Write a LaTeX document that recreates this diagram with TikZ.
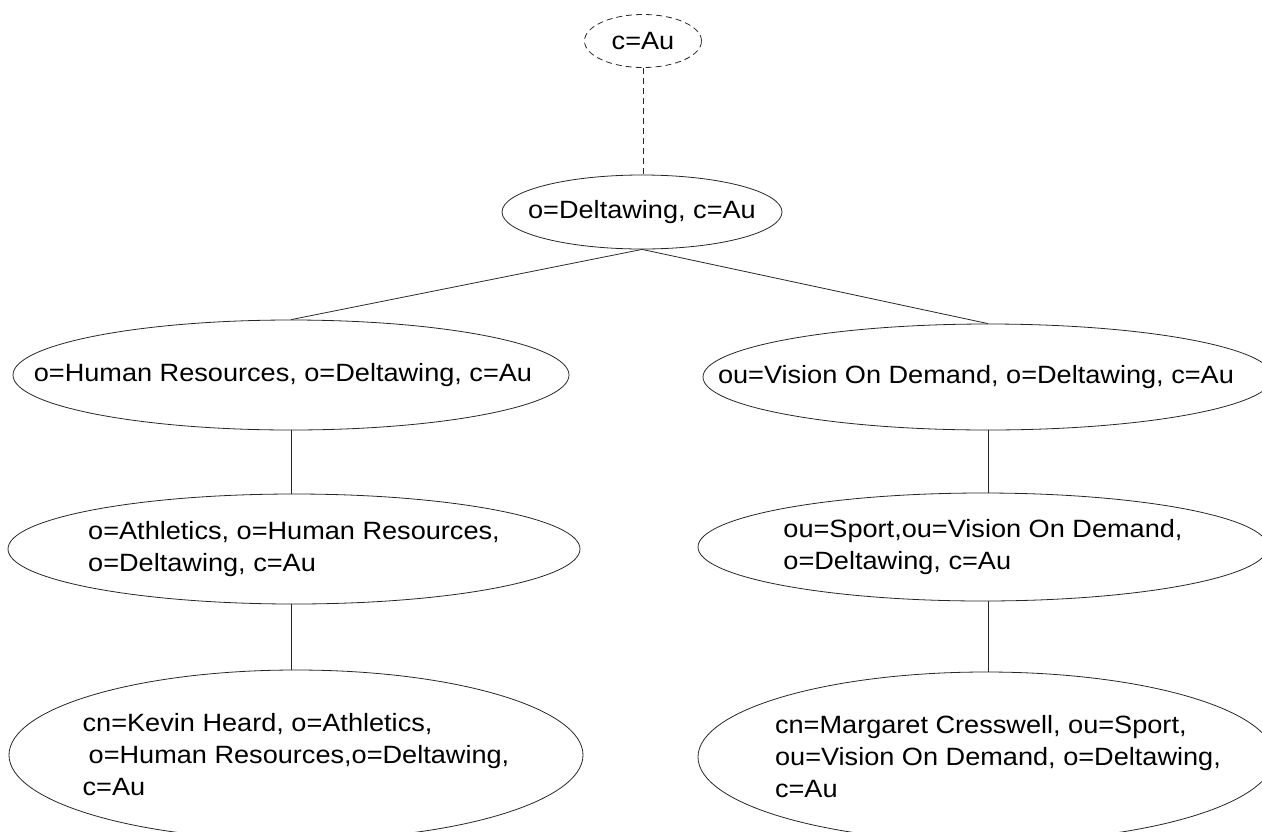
\documentclass[tikz,border=0pt]{standalone}
\usepackage{fontspec}
\setmainfont{Liberation Sans}[FakeStretch=1.085]
\usetikzlibrary{shapes.geometric}
\begin{document}
\begin{tikzpicture}[x=1pt,y=-1pt,
  every node/.style={font=\fontsize{25}{32}\selectfont},
  ent/.style={ellipse, draw=black!85, line width=0.8pt, inner sep=0pt},
  txt/.style={align=left, inner sep=0pt},
  longdash/.style={dash pattern=on 6pt off 4pt},
  link/.style={draw=black!85, line width=0.8pt}]
\useasboundingbox (0,0) rectangle (1262,831);
\clip (0,0) rectangle (1262,831);
\node[ent, longdash, minimum width=117pt, minimum height=53pt,
  label={[txt]center:c=Au}] (root) at (643,41) {};
\node[ent, minimum width=280pt, minimum height=74pt,
  label={[txt]center:o=Deltawing, c=Au}] (dw) at (642,212) {};
\node[ent, minimum width=556pt, minimum height=110pt,
  label={[txt, xshift=-8pt]center:o=Human Resources, o=Deltawing, c=Au}] (hr) at (291,375) {};
\node[ent, minimum width=570pt, minimum height=106pt,
  label={[txt, xshift=-12pt]center:ou=Vision On Demand, o=Deltawing, c=Au}] (vis) at (988,377) {};
\node[ent, minimum width=572pt, minimum height=110pt,
  label={[txt]center:o=Athletics, o=Human Resources,\\ o=Deltawing, c=Au}] (ath) at (294,549) {};
\node[ent, minimum width=570pt, minimum height=108pt,
  label={[txt]center:ou=Sport,ou=Vision On Demand,\\ o=Deltawing, c=Au}] (sp) at (983,547) {};
\node[ent, minimum width=574pt, minimum height=170pt,
  label={[txt]center:cn=Kevin Heard, o=Athletics,\\ \hspace*{6pt}o=Human Resources,o=Deltawing,\\ c=Au}] (kev) at (296,755) {};
\node[ent, minimum width=576pt, minimum height=170pt,
  label={[txt, xshift=12pt]center:cn=Margaret Cresswell, ou=Sport,\\ ou=Vision On Demand, o=Deltawing,\\ c=Au}] (mar) at (986,757) {};
\draw[link, longdash] (root.south) -- (root.south |- dw.north);
\draw[link] (dw.south) -- (hr.north);
\draw[link] (dw.south) -- (vis.north);
\draw[link] (hr.south) -- (hr.south |- ath.north);
\draw[link] (hr.south |- ath.south) -- (hr.south |- kev.north);
\draw[link] (vis.south) -- (vis.south |- sp.north);
\draw[link] (vis.south |- sp.south) -- (vis.south |- mar.north);
\end{tikzpicture}
\end{document}
